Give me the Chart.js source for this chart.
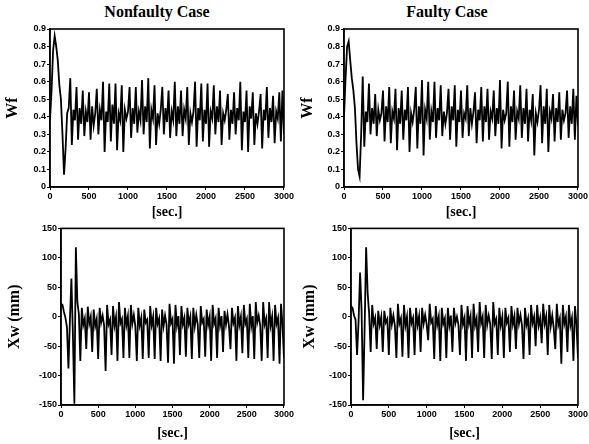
<!DOCTYPE html>
<html>
<head>
<meta charset="utf-8">
<script src="https://cdn.jsdelivr.net/npm/chart.js@4.4.0/dist/chart.umd.min.js"></script>
<style>
  body { margin: 0; background: #fff; }
  #page { position: relative; width: 589px; height: 444px; overflow: hidden; }
  canvas { position: absolute; }
  .caption { position: absolute; top: 3px; width: 200px; text-align: center;
             font: bold 16px "Liberation Serif", "DejaVu Serif", serif; color: #000; }
</style>
</head>
<body>
<div id="page">
  <div class="caption" style="left:57px">Nonfaulty Case</div>
  <div class="caption" style="left:347px">Faulty Case</div>
  <canvas id="wfNormalChart" width="295" height="222" style="left:0;top:0"></canvas>
  <canvas id="wfFaultyChart" width="294" height="222" style="left:295px;top:0"></canvas>
  <canvas id="xwNormalChart" width="295" height="222" style="left:0;top:222px"></canvas>
  <canvas id="xwFaultyChart" width="294" height="222" style="left:295px;top:222px"></canvas>
</div>
<script>
// sample times [sec.], shared by all four traces
const timeSec = [
  0, 20, 40, 60, 80, 100, 120, 140, 160, 180,
  200, 220, 240, 260, 280, 300, 320, 340, 360, 380,
  400, 420, 440, 460, 480, 500, 520, 540, 560, 580,
  600, 620, 640, 660, 680, 700, 720, 740, 760, 780,
  800, 820, 840, 860, 880, 900, 920, 940, 960, 980,
  1000, 1020, 1040, 1060, 1080, 1100, 1120, 1140, 1160, 1180,
  1200, 1220, 1240, 1260, 1280, 1300, 1320, 1340, 1360, 1380,
  1400, 1420, 1440, 1460, 1480, 1500, 1520, 1540, 1560, 1580,
  1600, 1620, 1640, 1660, 1680, 1700, 1720, 1740, 1760, 1780,
  1800, 1820, 1840, 1860, 1880, 1900, 1920, 1940, 1960, 1980,
  2000, 2020, 2040, 2060, 2080, 2100, 2120, 2140, 2160, 2180,
  2200, 2220, 2240, 2260, 2280, 2300, 2320, 2340, 2360, 2380,
  2400, 2420, 2440, 2460, 2480, 2500, 2520, 2540, 2560, 2580,
  2600, 2620, 2640, 2660, 2680, 2700, 2720, 2740, 2760, 2780,
  2800, 2820, 2840, 2860, 2880, 2900, 2920, 2940, 2960, 2980,
  3000
];

// Wf, nonfaulty case
const wfNormal = [
  0.38, 0.55, 0.78, 0.86, 0.80, 0.72, 0.58, 0.50, 0.30, 0.07, 0.22, 0.42, 0.45,
  0.62, 0.24, 0.44, 0.38,
  0.57, 0.27, 0.45, 0.36,
  0.55, 0.29, 0.43, 0.37,
  0.54, 0.27, 0.46, 0.35, 0.42,
  0.56, 0.30, 0.44, 0.38,
  0.60, 0.20, 0.43, 0.37,
  0.59, 0.26, 0.47, 0.36,
  0.59, 0.21, 0.42, 0.38,
  0.58, 0.20, 0.44, 0.39, 0.43,
  0.57, 0.28, 0.45, 0.36,
  0.57, 0.31, 0.43, 0.38,
  0.61, 0.30, 0.46, 0.37,
  0.62, 0.22, 0.44, 0.39,
  0.58, 0.24, 0.42, 0.36, 0.44,
  0.57, 0.30, 0.45, 0.37,
  0.55, 0.28, 0.43, 0.38,
  0.60, 0.29, 0.46, 0.36,
  0.55, 0.29, 0.44, 0.39,
  0.57, 0.24, 0.42, 0.37, 0.43,
  0.60, 0.23, 0.45, 0.38,
  0.59, 0.26, 0.44, 0.36,
  0.59, 0.23, 0.43, 0.39,
  0.58, 0.30, 0.46, 0.37,
  0.55, 0.24, 0.42, 0.38, 0.44,
  0.53, 0.27, 0.44, 0.36,
  0.54, 0.30, 0.45, 0.38,
  0.60, 0.21, 0.43, 0.37,
  0.55, 0.20, 0.46, 0.39,
  0.54, 0.24, 0.42, 0.36, 0.43,
  0.53, 0.22, 0.44, 0.38,
  0.57, 0.28, 0.45, 0.37,
  0.52, 0.25, 0.43, 0.39,
  0.54, 0.26, 0.55, 0.30
];

// Wf, faulty case
const wfFaulty = [
  0.40, 0.62, 0.80, 0.83, 0.72, 0.62, 0.55, 0.45, 0.25, 0.10, 0.06, 0.30,
  0.63, 0.23, 0.43, 0.37,
  0.59, 0.30, 0.45, 0.36,
  0.53, 0.29, 0.44, 0.38, 0.42,
  0.55, 0.26, 0.46, 0.37,
  0.57, 0.25, 0.43, 0.39,
  0.56, 0.21, 0.45, 0.36,
  0.55, 0.27, 0.44, 0.38,
  0.57, 0.20, 0.42, 0.37, 0.44,
  0.57, 0.22, 0.46, 0.36,
  0.61, 0.18, 0.44, 0.39,
  0.60, 0.27, 0.43, 0.37,
  0.60, 0.28, 0.45, 0.38,
  0.58, 0.29, 0.43, 0.36, 0.42,
  0.56, 0.27, 0.46, 0.38,
  0.58, 0.23, 0.44, 0.37,
  0.55, 0.28, 0.42, 0.39,
  0.58, 0.29, 0.45, 0.36, 0.43,
  0.54, 0.25, 0.44, 0.38,
  0.57, 0.26, 0.46, 0.37,
  0.56, 0.27, 0.43, 0.39,
  0.55, 0.29, 0.45, 0.36,
  0.61, 0.22, 0.44, 0.38, 0.42,
  0.60, 0.23, 0.46, 0.37,
  0.55, 0.27, 0.43, 0.39,
  0.58, 0.28, 0.45, 0.36,
  0.56, 0.26, 0.44, 0.38,
  0.53, 0.18, 0.42, 0.37, 0.44,
  0.58, 0.25, 0.46, 0.36,
  0.56, 0.20, 0.43, 0.39,
  0.53, 0.26, 0.45, 0.37,
  0.54, 0.27, 0.44, 0.38, 0.42,
  0.55, 0.28, 0.46, 0.36,
  0.56, 0.27, 0.52, 0.35
];

// Xw (mm), nonfaulty case
const xwNormal = [
  22, 20, 8, -2, -18, -88, -5, 65, -30, -148, 118, 25, 5,
  -75, 15, -14, -3,
  -55, 17, -12, 0,
  -60, 12, -16, -4,
  -72, 15, -10, 2, -15,
  -92, 20, -13, -5,
  -65, 18, -15, 0,
  -75, 25, -11, -4,
  -70, 15, -14, 1,
  -70, 20, -12, 3, -16,
  -75, 15, -15, -2,
  -72, 12, -10, -5,
  -70, 18, -14, 0,
  -72, 15, -12, -3,
  -75, 12, -16, 2, -13,
  -78, 22, -11, -4,
  -80, 20, -15, 1,
  -65, 18, -13, -2,
  -68, 15, -12, 0,
  -72, 15, -16, 3, -14,
  -70, 18, -10, -4,
  -68, 12, -14, 0,
  -75, 20, -12, -3,
  -70, 15, -15, 1,
  -60, 10, -13, 4, -16,
  -55, 15, -11, -2,
  -75, 18, -14, 0,
  -62, 20, -12, -4,
  -70, 22, -16, 1,
  -72, 25, -10, 2, -15,
  -75, 25, -13, -3,
  -70, 25, -15, 0,
  -75, 20, -12, -2,
  -80, 22, -14, -70
];

// Xw (mm), faulty case
const xwFaulty = [
  18, 15, 2, -5, -65, -8, 75, 10, -142, -20, 118, 40, 5,
  -60, 20, -12, -2,
  -55, 10, -14, 0,
  -60, 10, -10, -4,
  -65, 15, -13, 2, -15,
  -70, 22, -12, -3,
  -68, 20, -15, 0,
  -70, 15, -11, -2,
  -65, 15, -14, 1,
  -60, 15, -12, 3, -13,
  -40, 22, -10, -4,
  -72, 18, -14, 0,
  -75, 15, -12, -3,
  -70, 15, -15, 2,
  -60, 15, -11, 0, -14,
  -65, 20, -13, -2,
  -75, 18, -12, 1,
  -70, 22, -15, -3,
  -60, 25, -11, 0,
  -70, 20, -14, 2, -12,
  -72, 25, -12, -4,
  -65, 15, -15, 0,
  -70, 15, -10, -2,
  -60, 18, -13, 1,
  -55, 15, -12, 3, -15,
  -72, 15, -14, -3,
  -65, 20, -11, 0,
  -50, 20, -15, -2,
  -45, 22, -12, 1,
  -65, 20, -16, 2, -20,
  -55, 22, -14, -3,
  -80, 20, -12, 0,
  -60, 20, -15, -2,
  -75, 18, -14, -70
];

const wfTicks = { min: 0, max: 0.9, step: 0.1 };
const xwTicks = { min: -150, max: 150, step: 50 };

// box around the plot area
const framePlugin = {
  id: 'frame',
  afterDraw(chart) {
    const a = chart.chartArea;
    const ctx = chart.ctx;
    ctx.save();
    ctx.strokeStyle = '#000';
    ctx.lineWidth = 1.6;
    ctx.strokeRect(a.left, a.top, a.right - a.left, a.bottom - a.top);
    ctx.restore();
  }
};

const tickFont = { family: '"Liberation Sans", Arial, sans-serif', size: 9, weight: 'bold' };
const titleFamily = '"Liberation Serif", "DejaVu Serif", serif';

function makeChart(id, values, yRange, yTitle, box) {
  const points = timeSec.map((t, i) => ({ x: t, y: values[i] }));
  return new Chart(document.getElementById(id), {
    type: 'line',
    data: {
      datasets: [{
        data: points,
        borderColor: '#000',
        borderWidth: 1.8,
        pointRadius: 0,
        tension: 0,
        fill: false
      }]
    },
    plugins: [framePlugin],
    options: {
      responsive: false,
      animation: false,
      layout: { padding: { top: box.top, right: box.right, left: 0, bottom: 0 } },
      plugins: { legend: { display: false }, tooltip: { enabled: false } },
      scales: {
        x: {
          type: 'linear',
          min: 0,
          max: 3000,
          afterFit: (s) => { s.height = box.xh; },
          ticks: {
            stepSize: 500,
            color: '#000',
            font: tickFont,
            padding: 1,
            maxRotation: 0,
            autoSkip: false,
            callback: (v) => String(v)
          },
          grid: { drawOnChartArea: false, tickLength: 3, color: '#000' },
          border: { color: '#000', width: 1.5 },
          title: {
            display: true,
            text: '[sec.]',
            color: '#000',
            font: { family: titleFamily, size: 14, weight: 'bold' },
            padding: { top: 0, bottom: box.xpad }
          }
        },
        y: {
          min: yRange.min,
          max: yRange.max,
          afterFit: (s) => { s.width = box.yw; },
          ticks: {
            stepSize: yRange.step,
            color: '#000',
            font: tickFont,
            padding: 1,
            autoSkip: false,
            callback: (v) => String(Math.round(v * 10) / 10)
          },
          grid: { drawOnChartArea: false, tickLength: 3, color: '#000' },
          border: { color: '#000', width: 1.5 },
          title: {
            display: true,
            text: yTitle,
            color: '#000',
            font: { family: titleFamily, size: box.ysize, weight: 'bold' },
            padding: { top: box.ypad, bottom: 0 }
          }
        }
      }
    }
  });
}

makeChart('wfNormalChart', wfNormal, wfTicks, 'Wf',
  { top: 29, right: 9, yw: 50, xh: 35, xpad: 1, ysize: 16, ypad: 3 });
makeChart('wfFaultyChart', wfFaulty, wfTicks, 'Wf',
  { top: 29, right: 10, yw: 49, xh: 35, xpad: 1, ysize: 16, ypad: 3 });
makeChart('xwNormalChart', xwNormal, xwTicks, 'Xw (mm)',
  { top: 6, right: 8, yw: 61, xh: 39, xpad: 2, ysize: 16, ypad: 5 });
makeChart('xwFaultyChart', xwFaulty, xwTicks, 'Xw (mm)',
  { top: 5, right: 11, yw: 56, xh: 39, xpad: 2, ysize: 16, ypad: 5 });
</script>
</body>
</html>
